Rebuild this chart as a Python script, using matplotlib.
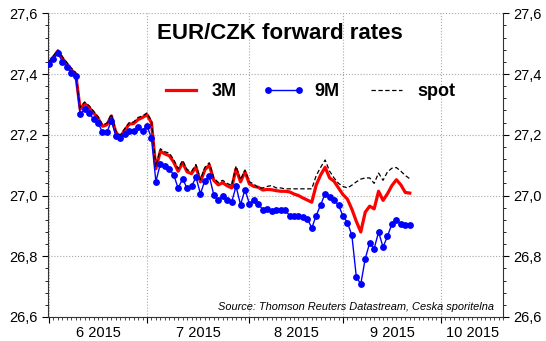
import matplotlib
matplotlib.use("Agg")
import matplotlib.pyplot as plt
import numpy as np
import pandas as pd
from matplotlib.ticker import MultipleLocator, FuncFormatter, FixedLocator

plt.rcParams['font.family'] = ['Liberation Sans', 'DejaVu Sans']

# ---- data (business days from 1 June 2015) ----
start_date = '2015-06-01'
axis_end_date = '2015-10-21'

fwd_9m = [27.432, 27.448, 27.470, 27.440, 27.424, 27.405, 27.392, 27.268, 27.284, 27.273,
          27.251, 27.240, 27.208, 27.208, 27.246, 27.197, 27.191, 27.202, 27.213, 27.213,
          27.224, 27.213, 27.230, 27.189, 27.046, 27.104, 27.098, 27.088, 27.068, 27.024,
          27.055, 27.024, 27.030, 27.060, 27.006, 27.049, 27.063, 27.002, 26.984, 26.997,
          26.984, 26.978, 27.030, 26.970, 27.019, 26.973, 26.984, 26.973, 26.953, 26.956,
          26.949, 26.953, 26.951, 26.953, 26.934, 26.931, 26.931, 26.929, 26.924, 26.893,
          26.934, 26.970, 27.006, 26.994, 26.986, 26.968, 26.933, 26.911, 26.869, 26.732,
          26.708, 26.792, 26.844, 26.825, 26.880, 26.830, 26.866, 26.907, 26.918, 26.907,
          26.902, 26.902]

fwd_3m = [27.436, 27.456, 27.476, 27.452, 27.433, 27.414, 27.400, 27.284, 27.303, 27.290,
          27.272, 27.255, 27.228, 27.233, 27.262, 27.208, 27.193, 27.215, 27.235, 27.237,
          27.250, 27.257, 27.266, 27.240, 27.088, 27.146, 27.137, 27.131, 27.110, 27.080,
          27.108, 27.078, 27.072, 27.094, 27.045, 27.085, 27.100, 27.050, 27.035, 27.042,
          27.032, 27.025, 27.088, 27.045, 27.078, 27.038, 27.030, 27.027, 27.018, 27.020,
          27.019, 27.016, 27.014, 27.014, 27.012, 27.005, 27.000, 26.992, 26.985, 26.978,
          27.035, 27.068, 27.093, 27.058, 27.047, 27.025, 27.003, 26.988, 26.955, 26.915,
          26.880, 26.945, 26.965, 26.956, 27.014, 26.984, 27.006, 27.033, 27.052, 27.035,
          27.010, 27.008]

spot = [27.441, 27.460, 27.479, 27.457, 27.438, 27.420, 27.405, 27.290, 27.308, 27.296,
        27.278, 27.260, 27.233, 27.238, 27.268, 27.213, 27.198, 27.220, 27.240, 27.242,
        27.257, 27.262, 27.272, 27.246, 27.095, 27.154, 27.144, 27.140, 27.118, 27.088,
        27.116, 27.085, 27.080, 27.102, 27.052, 27.093, 27.108, 27.058, 27.043, 27.050,
        27.040, 27.033, 27.097, 27.052, 27.084, 27.045, 27.038, 27.025, 27.025, 27.030,
        27.033, 27.025, 27.025, 27.022, 27.022, 27.022, 27.022, 27.022, 27.022, 27.022,
        27.066, 27.093, 27.117, 27.080, 27.058, 27.040, 27.030, 27.025, 27.034, 27.045,
        27.054, 27.058, 27.058, 27.040, 27.074, 27.050, 27.078, 27.090, 27.092, 27.080,
        27.066, 27.055]

series_labels = ['3M', '9M', 'spot']
title_text = 'EUR/CZK forward rates'
source_text = 'Source: Thomson Reuters Datastream, Ceska sporitelna'

# ---- calendar on business-day axis ----
all_days = pd.bdate_range(start_date, axis_end_date)
x = np.arange(len(fwd_9m))
months = all_days.month
bounds = [0] + [i for i in range(1, len(all_days)) if months[i] != months[i - 1]]
edges = bounds + [len(all_days) - 1]
month_labels = [f"{all_days[b].month} {all_days[b].year}" for b in bounds]
label_pos = [(edges[i] + edges[i + 1]) / 2 for i in range(len(bounds))]

fig = plt.figure(figsize=(5.46, 3.41), dpi=100)
ax = fig.add_axes([0.0885, 0.0704, 0.8333, 0.8906])

ax.plot(x, fwd_3m, color='#ff0000', lw=2.3, label=series_labels[0], zorder=3)
ax.plot(x, spot, color='black', lw=0.9, ls=(0, (3.5, 2)), label=series_labels[2], zorder=4)
ax.plot(x, fwd_9m, color='#0000ff', lw=1.0, marker='o', ms=3.9, mec='#0000ff',
        mfc='#0000ff', label=series_labels[1], zorder=5)

ax.set_ylim(26.6, 27.6)
ax.set_xlim(-0.15, len(all_days) - 1)

ax.yaxis.set_major_locator(MultipleLocator(0.2))
ax.yaxis.set_minor_locator(MultipleLocator(0.04))
ax.yaxis.set_major_formatter(FuncFormatter(lambda v, p: f"{v:.1f}".replace('.', ',')))

ax.xaxis.set_major_locator(FixedLocator(bounds))
ax.xaxis.set_minor_locator(FixedLocator(list(range(len(all_days)))))
ax.set_xticklabels([])
for lp, lab in zip(label_pos, month_labels):
    ax.text(lp, -0.0675, lab, transform=ax.get_xaxis_transform(), ha='center',
            va='baseline', fontsize=10.5)

ax.tick_params(axis='y', which='both', left=True, right=True, labelleft=True,
               labelright=True, direction='out', labelsize=10.5)
ax.tick_params(axis='y', which='major', length=4, width=0.8, pad=3.5)
ax.tick_params(axis='y', which='minor', length=2.5, width=0.6)
ax.tick_params(axis='x', which='major', length=4, width=0.8)
ax.tick_params(axis='x', which='minor', length=1.8, width=0.5)

ax.grid(True, which='major', color='#a8a8a8', ls=':', lw=0.8)
ax.set_axisbelow(True)
ax.spines['top'].set_visible(False)
for s in ['left', 'right', 'bottom']:
    ax.spines[s].set_linewidth(0.8)
    ax.spines[s].set_color('#333333')

ax.text(0.509, 0.935, title_text, transform=ax.transAxes, ha='center', va='center',
        fontsize=16, fontweight='bold')

handles, labels = ax.get_legend_handles_labels()
leg = ax.legend([handles[0], handles[2], handles[1]], [labels[0], labels[2], labels[1]],
                ncol=3, loc='center', bbox_to_anchor=(0.57, 0.742), frameon=False,
                prop={'weight': 'bold', 'size': 13}, handlelength=2.3, handletextpad=0.55,
                columnspacing=1.45, numpoints=2)

ax.text(0.98, 0.033, source_text, transform=ax.transAxes, ha='right', va='center',
        fontsize=7.9, style='italic')

fig.savefig('out.png', dpi=100)
